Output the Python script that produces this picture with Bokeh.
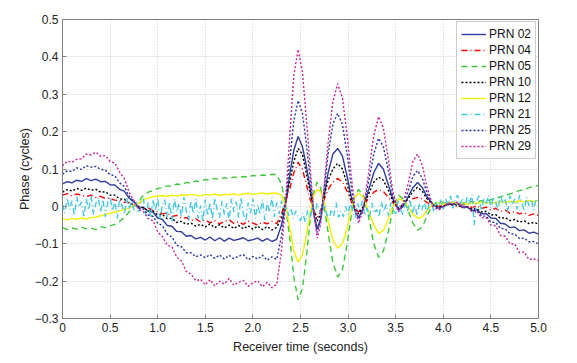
from bokeh.plotting import figure
from bokeh.models import FixedTicker, Legend, LegendItem, Range1d
from bokeh.embed import file_html
from bokeh.resources import INLINE

# time samples (seconds) shared by most series
t = [0.00, 0.05, 0.10, 0.15, 0.20, 0.25, 0.30, 0.35, 0.40, 0.45,
     0.50, 0.55, 0.60, 0.65, 0.70, 0.75, 0.80, 0.85, 0.90, 0.95,
     1.00, 1.05, 1.10, 1.15, 1.20, 1.25, 1.30, 1.35, 1.40, 1.45,
     1.50, 1.55, 1.60, 1.65, 1.70, 1.75, 1.80, 1.85, 1.90, 1.95,
     2.00, 2.05, 2.10, 2.15, 2.20, 2.25,
     2.30, 2.34, 2.39, 2.43, 2.475, 2.52, 2.56, 2.60, 2.64, 2.675,
     2.71, 2.75, 2.79, 2.84, 2.89, 2.94, 2.99, 3.03, 3.07, 3.11,
     3.16, 3.21, 3.27, 3.32, 3.37, 3.42, 3.47, 3.53, 3.58, 3.63,
     3.68, 3.73, 3.78, 3.83, 3.89, 3.95, 4.00,
     4.05, 4.10, 4.15, 4.20, 4.25, 4.30, 4.35, 4.40, 4.45, 4.50,
     4.55, 4.60, 4.65, 4.70, 4.75, 4.80, 4.85, 4.90, 4.95, 5.00]

# finer time samples for the very noisy PRN 21 trace
t21 = [0.000, 0.025, 0.050, 0.075, 0.100, 0.125, 0.150, 0.175, 0.200, 0.225,
       0.250, 0.275, 0.300, 0.325, 0.350, 0.375, 0.400, 0.425, 0.450, 0.475,
       0.500, 0.525, 0.550, 0.575, 0.600, 0.625, 0.650, 0.675, 0.700, 0.725,
       0.750, 0.775, 0.800, 0.825, 0.850, 0.875, 0.900, 0.925, 0.950, 0.975,
       1.000, 1.025, 1.050, 1.075, 1.100, 1.125, 1.150, 1.175, 1.200, 1.225,
       1.250, 1.275, 1.300, 1.325, 1.350, 1.375, 1.400, 1.425, 1.450, 1.475,
       1.500, 1.525, 1.550, 1.575, 1.600, 1.625, 1.650, 1.675, 1.700, 1.725,
       1.750, 1.775, 1.800, 1.825, 1.850, 1.875, 1.900, 1.925, 1.950, 1.975,
       2.000, 2.025, 2.050, 2.075, 2.100, 2.125, 2.150, 2.175, 2.200, 2.225,
       2.250, 2.275, 2.300, 2.325, 2.350, 2.375, 2.400, 2.425, 2.450, 2.475,
       2.500, 2.525, 2.550, 2.575, 2.600, 2.625, 2.650, 2.675, 2.700, 2.725,
       2.750, 2.775, 2.800, 2.825, 2.850, 2.875, 2.900, 2.925, 2.950, 2.975,
       3.000, 3.025, 3.050, 3.075, 3.100, 3.125, 3.150, 3.175, 3.200, 3.225,
       3.250, 3.275, 3.300, 3.325, 3.350, 3.375, 3.400, 3.425, 3.450, 3.475,
       3.500, 3.525, 3.550, 3.575, 3.600, 3.625, 3.650, 3.675, 3.700, 3.725,
       3.750, 3.775, 3.800, 3.825, 3.850, 3.875, 3.900, 3.925, 3.950, 3.975,
       4.000, 4.025, 4.050, 4.075, 4.100, 4.125, 4.150, 4.175, 4.200, 4.225,
       4.250, 4.275, 4.300, 4.325, 4.350, 4.375, 4.400, 4.425, 4.450, 4.475,
       4.500, 4.525, 4.550, 4.575, 4.600, 4.625, 4.650, 4.675, 4.700, 4.725,
       4.750, 4.775, 4.800, 4.825, 4.850, 4.875, 4.900, 4.925, 4.950, 4.975,
       5.000]

prn02 = [0.060, 0.066, 0.063, 0.070, 0.067, 0.074, 0.069, 0.073, 0.066, 0.067,
         0.058, 0.057, 0.046, 0.040, 0.022, 0.012, -0.002, -0.003, -0.013, -0.015,
         -0.031, -0.035, -0.051, -0.053, -0.067, -0.068, -0.080, -0.078, -0.087, -0.083,
         -0.090, -0.082, -0.092, -0.084, -0.093, -0.085, -0.091, -0.088, -0.084, -0.092,
         -0.089, -0.085, -0.093, -0.086, -0.094, -0.088,
         -0.050, 0.000, 0.090, 0.150, 0.187, 0.160, 0.110, 0.050, -0.020, -0.060,
         -0.035, 0.030, 0.090, 0.140, 0.155, 0.135, 0.080, 0.030, -0.010, -0.030,
         -0.005, 0.040, 0.090, 0.115, 0.100, 0.060, 0.020, -0.010, 0.000, 0.025,
         0.050, 0.064, 0.050, 0.025, 0.005, -0.005, 0.000,
         0.006, 0.005, 0.006, -0.003, -0.001, -0.011, -0.009, -0.020, -0.019, -0.031,
         -0.032, -0.045, -0.047, -0.057, -0.055, -0.065, -0.063, -0.072, -0.069, -0.074]

prn04 = [0.030, 0.034, 0.028, 0.033, 0.030, 0.026, 0.030, 0.024, 0.027, 0.021,
         0.022, 0.016, 0.017, 0.011, 0.010, 0.004, 0.000, -0.006, -0.004, -0.012,
         -0.014, -0.020, -0.018, -0.027, -0.024, -0.032, -0.030, -0.038, -0.033, -0.042,
         -0.036, -0.044, -0.038, -0.047, -0.040, -0.036, -0.046, -0.041, -0.048, -0.039,
         -0.045, -0.050, -0.042, -0.047, -0.040, -0.046,
         -0.020, 0.010, 0.050, 0.090, 0.118, 0.100, 0.060, 0.020, -0.010, -0.030,
         -0.015, 0.020, 0.045, 0.065, 0.075, 0.065, 0.040, 0.015, -0.005, -0.015,
         0.000, 0.020, 0.038, 0.045, 0.040, 0.025, 0.010, -0.005, 0.005, 0.012,
         0.020, 0.024, 0.020, 0.010, 0.003, 0.000, 0.002,
         0.005, 0.010, -0.002, 0.004, 0.008, -0.004, 0.002, -0.006, -0.002, -0.010,
         -0.005, -0.014, -0.010, -0.018, -0.014, -0.020, -0.017, -0.024, -0.020, -0.025]

prn05 = [-0.057, -0.062, -0.058, -0.061, -0.056, -0.060, -0.058, -0.062, -0.055, -0.057,
         -0.052, -0.048, -0.040, -0.030, -0.015, 0.000, 0.012, 0.030, 0.038, 0.042,
         0.048, 0.050, 0.055, 0.053, 0.060, 0.058, 0.064, 0.062, 0.068, 0.066,
         0.072, 0.070, 0.075, 0.072, 0.077, 0.074, 0.079, 0.076, 0.080, 0.078,
         0.083, 0.080, 0.084, 0.082, 0.086, 0.085,
         0.060, 0.010, -0.090, -0.190, -0.250, -0.220, -0.140, -0.040, 0.040, 0.065,
         0.050, 0.000, -0.070, -0.150, -0.189, -0.170, -0.100, -0.030, 0.025, 0.045,
         0.030, -0.020, -0.100, -0.136, -0.120, -0.070, -0.010, 0.030, 0.020, -0.010,
         -0.045, -0.064, -0.055, -0.025, 0.005, 0.015, 0.010,
         0.008, 0.012, 0.006, 0.010, 0.008, 0.013, 0.010, 0.015, 0.014, 0.018,
         0.022, 0.025, 0.030, 0.033, 0.038, 0.042, 0.045, 0.050, 0.053, 0.056]

prn10 = [0.038, 0.045, 0.041, 0.048, 0.043, 0.049, 0.043, 0.046, 0.038, 0.039,
         0.030, 0.030, 0.020, 0.019, 0.008, 0.006, -0.002, -0.003, -0.012, -0.012,
         -0.023, -0.022, -0.033, -0.032, -0.043, -0.040, -0.048, -0.045, -0.053, -0.048,
         -0.055, -0.047, -0.057, -0.049, -0.058, -0.050, -0.059, -0.051, -0.060, -0.052,
         -0.061, -0.053, -0.062, -0.054, -0.063, -0.056,
         -0.030, 0.010, 0.070, 0.120, 0.155, 0.140, 0.090, 0.040, -0.010, -0.040,
         -0.020, 0.030, 0.070, 0.100, 0.115, 0.100, 0.060, 0.020, -0.005, -0.020,
         0.000, 0.030, 0.065, 0.078, 0.070, 0.045, 0.015, -0.005, 0.005, 0.020,
         0.040, 0.051, 0.040, 0.020, 0.005, 0.000, 0.000,
         0.005, 0.004, 0.004, -0.002, -0.001, -0.008, -0.006, -0.015, -0.013, -0.023,
         -0.022, -0.032, -0.030, -0.038, -0.035, -0.042, -0.039, -0.046, -0.043, -0.047]

prn12 = [-0.033, -0.036, -0.032, -0.035, -0.031, -0.034, -0.030, -0.029, -0.025, -0.022,
         -0.018, -0.015, -0.012, -0.008, -0.005, 0.002, 0.008, 0.018, 0.022, 0.026,
         0.027, 0.029, 0.027, 0.030, 0.028, 0.031, 0.029, 0.032, 0.030, 0.028,
         0.032, 0.030, 0.033, 0.029, 0.032, 0.031, 0.034, 0.030, 0.033, 0.035,
         0.032, 0.034, 0.036, 0.033, 0.035, 0.035,
         0.030, 0.005, -0.060, -0.120, -0.149, -0.130, -0.080, -0.020, 0.030, 0.045,
         0.040, 0.010, -0.040, -0.090, -0.112, -0.100, -0.060, -0.010, 0.025, 0.035,
         0.025, -0.010, -0.050, -0.072, -0.065, -0.035, 0.000, 0.020, 0.015, 0.000,
         -0.020, -0.032, -0.028, -0.010, 0.005, 0.010, 0.005,
         0.008, 0.010, 0.006, 0.009, 0.005, 0.010, 0.007, 0.012, 0.008, 0.011,
         0.009, 0.013, 0.010, 0.014, 0.011, 0.015, 0.012, 0.016, 0.013, 0.016]

prn21 = [0.005, -0.018, 0.022, -0.008, 0.015, -0.025, 0.026, -0.002, 0.012, -0.030,
         0.020, -0.010, 0.028, -0.022, 0.008, 0.024, -0.015, 0.018, -0.028, 0.010,
         0.025, -0.012, 0.016, -0.032, 0.020, 0.002, -0.020, 0.022, -0.008, 0.015,
         -0.010, 0.012, -0.018, 0.008, 0.020, -0.025, 0.010, -0.030, 0.018, -0.012,
         0.022, -0.035, 0.005, 0.018, -0.028, 0.012, -0.040, 0.020, -0.015, 0.008,
         -0.030, 0.025, -0.012, -0.038, 0.015, -0.020, 0.020, -0.032, 0.002, -0.042,
         0.018, -0.025, 0.010, -0.035, 0.022, -0.010, -0.030, 0.015, -0.022, 0.008,
         -0.038, 0.020, -0.015, 0.012, -0.030, 0.024, -0.020, -0.040, 0.010, -0.018,
         0.020, -0.032, 0.005, -0.022, 0.018, -0.036, 0.012, -0.015, 0.025, -0.028,
         0.010, -0.020, 0.015, -0.010, 0.005, -0.025, -0.005, -0.032, -0.012, -0.030,
         -0.038, -0.018, -0.042, -0.010, -0.030, 0.002, -0.020, 0.008, -0.012, -0.028,
         0.005, -0.020, -0.035, -0.008, -0.025, 0.010, -0.030, -0.012, -0.028, 0.000,
         -0.022, 0.012, -0.015, -0.030, 0.008, -0.010, 0.015, -0.025, -0.005, -0.030,
         0.010, -0.018, -0.008, -0.028, 0.012, -0.015, 0.005, -0.025, 0.010, -0.012,
         -0.020, 0.015, -0.008, -0.022, 0.010, -0.012, 0.018, -0.018, 0.005, -0.025,
         0.008, -0.010, 0.015, -0.018, 0.005, 0.012, -0.015, 0.010, -0.005, 0.018,
         -0.008, 0.020, 0.005, 0.028, -0.005, 0.018, 0.030, 0.002, 0.022, -0.008,
         0.025, 0.008, 0.032, -0.050, 0.015, 0.028, -0.012, 0.020, 0.005, 0.030,
         -0.005, 0.025, 0.012, -0.010, 0.030, 0.008, 0.022, -0.015, 0.028, 0.005,
         0.020, -0.008, 0.030, 0.010, -0.012, 0.025, 0.002, 0.018, -0.010, 0.020,
         0.012]

prn25 = [0.086, 0.095, 0.093, 0.103, 0.099, 0.109, 0.105, 0.107, 0.099, 0.097,
         0.085, 0.082, 0.063, 0.053, 0.027, 0.013, -0.005, -0.007, -0.023, -0.027,
         -0.045, -0.052, -0.074, -0.082, -0.104, -0.108, -0.124, -0.124, -0.135, -0.130,
         -0.137, -0.129, -0.139, -0.130, -0.141, -0.131, -0.140, -0.133, -0.129, -0.143,
         -0.134, -0.141, -0.131, -0.144, -0.135, -0.142,
         -0.080, 0.000, 0.130, 0.230, 0.283, 0.250, 0.170, 0.080, -0.020, -0.070,
         -0.040, 0.050, 0.140, 0.220, 0.249, 0.220, 0.140, 0.060, -0.010, -0.035,
         -0.005, 0.060, 0.140, 0.182, 0.160, 0.100, 0.030, -0.010, 0.005, 0.040,
         0.080, 0.096, 0.075, 0.035, 0.005, -0.008, 0.000,
         0.008, 0.006, 0.008, -0.003, -0.001, -0.013, -0.011, -0.026, -0.026, -0.042,
         -0.043, -0.059, -0.060, -0.073, -0.074, -0.086, -0.085, -0.095, -0.094, -0.101]

prn29 = [0.108, 0.121, 0.118, 0.126, 0.127, 0.140, 0.138, 0.145, 0.134, 0.136,
         0.120, 0.116, 0.092, 0.074, 0.038, 0.016, -0.008, -0.014, -0.033, -0.038,
         -0.068, -0.081, -0.104, -0.108, -0.136, -0.146, -0.174, -0.181, -0.199, -0.195,
         -0.210, -0.196, -0.213, -0.200, -0.208, -0.193, -0.211, -0.203, -0.198, -0.214,
         -0.204, -0.199, -0.215, -0.203, -0.218, -0.208,
         -0.120, 0.000, 0.200, 0.350, 0.420, 0.360, 0.240, 0.110, -0.020, -0.085,
         -0.050, 0.060, 0.170, 0.280, 0.328, 0.290, 0.190, 0.090, 0.000, -0.045,
         -0.010, 0.080, 0.190, 0.240, 0.210, 0.130, 0.040, -0.015, 0.010, 0.060,
         0.120, 0.140, 0.110, 0.050, 0.000, -0.010, 0.000,
         0.010, 0.006, 0.012, -0.004, 0.002, -0.014, -0.012, -0.030, -0.030, -0.050,
         -0.052, -0.078, -0.080, -0.100, -0.100, -0.124, -0.122, -0.142, -0.140, -0.146]

labels = ["PRN 02", "PRN 04", "PRN 05", "PRN 10", "PRN 12", "PRN 21", "PRN 25", "PRN 29"]
series = [prn02, prn04, prn05, prn10, prn12, prn21, prn25, prn29]
times = [t, t, t, t, t, t21, t, t]
colors = ["#2e3c9c", "#ff0000", "#3fc73a", "#000000", "#f0f000", "#45c8e0", "#2333a8", "#cc2299"]
dashes = ["solid", "6 3 1 3", "6 4", "2 2", "solid", "6 3 1 3", "2 2", "2 2"]

x_ticks = [0, 0.5, 1.0, 1.5, 2.0, 2.5, 3.0, 3.5, 4.0, 4.5, 5.0]
x_tick_labels = ["0", "0.5", "1.0", "1.5", "2.0", "2.5", "3.0", "3.5", "4.0", "4.5", "5.0"]
y_ticks = [-0.3, -0.2, -0.1, 0, 0.1, 0.2, 0.3, 0.4, 0.5]
y_tick_labels = ["\u22120.3", "\u22120.2", "\u22120.1", "0", "0.1", "0.2", "0.3", "0.4", "0.5"]

for s, tt in zip(series, times):
    assert len(s) == len(tt), (len(s), len(tt))

FONT = "Liberation Sans"

p = figure(frame_width=476, frame_height=299,
           x_range=Range1d(0, 5), y_range=Range1d(-0.3, 0.5),
           output_backend="svg", toolbar_location=None,
           min_border_left=62, min_border_right=31, min_border_top=19, min_border_bottom=36)
p.background_fill_color = "white"
p.border_fill_color = "white"
p.outline_line_color = "#808080"
p.outline_line_width = 1

renderers = []
for tt, s, c, d in zip(times, series, colors, dashes):
    r = p.line(tt, s, line_color=c, line_width=1.4, line_dash=d)
    renderers.append(r)

items = [LegendItem(label=lab, renderers=[r]) for lab, r in zip(labels, renderers)]
legend = Legend(items=items, location="top_right", label_text_font=FONT,
                label_text_font_size="12px", label_text_color="#111111",
                glyph_width=25, glyph_height=16, label_height=16, label_standoff=3,
                spacing=0, padding=4, margin=2,
                border_line_color="#999999", border_line_width=1,
                background_fill_color="white", background_fill_alpha=1)
p.add_layout(legend)

xax = p.xaxis[0]
yax = p.yaxis[0]
xax.ticker = FixedTicker(ticks=x_ticks)
xax.major_label_overrides = {k: v for k, v in zip(x_ticks, x_tick_labels)}
yax.ticker = FixedTicker(ticks=y_ticks)
yax.major_label_overrides = {k: v for k, v in zip(y_ticks, y_tick_labels)}

for ax in (xax, yax):
    ax.axis_line_color = "#808080"
    ax.major_tick_line_color = "#808080"
    ax.major_tick_in = 4
    ax.major_tick_out = 0
    ax.minor_tick_line_color = None
    ax.major_label_text_font = FONT
    ax.major_label_text_font_size = "12px"
    ax.major_label_text_color = "#222222"
    ax.axis_label_text_font = FONT
    ax.axis_label_text_font_size = "12.5px"
    ax.axis_label_text_font_style = "normal"
    ax.axis_label_text_color = "#222222"
    ax.major_label_standoff = 4

xax.axis_label = "Receiver time (seconds)"
yax.axis_label = "Phase (cycles)"
xax.axis_label_standoff = 5
yax.axis_label_standoff = 0

for g in (p.xgrid, p.ygrid):
    g.grid_line_color = "#c8c8c8"
    g.grid_line_dash = "1 2"
    g.grid_line_width = 1

open("out.html", "w").write(file_html(p, INLINE))
